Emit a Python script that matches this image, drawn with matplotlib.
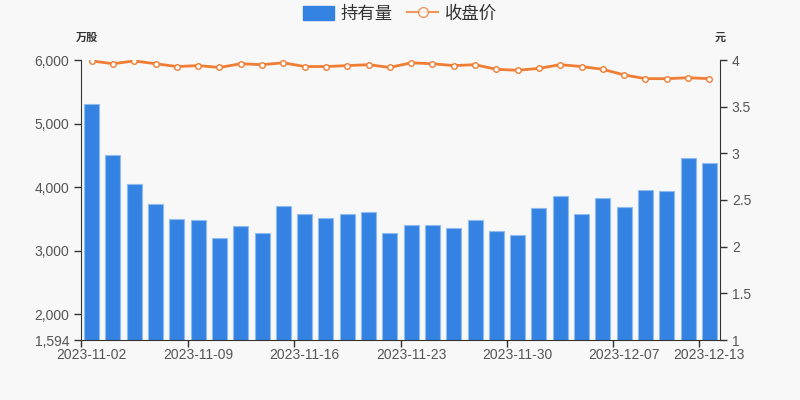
import numpy as np
import matplotlib
matplotlib.use("Agg")
import matplotlib.pyplot as plt
from matplotlib.patches import Patch
from matplotlib.lines import Line2D

plt.rcParams['font.family'] = ['Liberation Sans', 'Noto Sans CJK SC', 'DejaVu Sans']

dates = ['2023-11-02', '2023-11-03', '2023-11-06', '2023-11-07', '2023-11-08',
         '2023-11-09', '2023-11-10', '2023-11-13', '2023-11-14', '2023-11-15',
         '2023-11-16', '2023-11-17', '2023-11-20', '2023-11-21', '2023-11-22',
         '2023-11-23', '2023-11-24', '2023-11-27', '2023-11-28', '2023-11-29',
         '2023-11-30', '2023-12-01', '2023-12-04', '2023-12-05', '2023-12-06',
         '2023-12-07', '2023-12-08', '2023-12-11', '2023-12-12', '2023-12-13']
holdings = [5303, 4505, 4049, 3729, 3498, 3482, 3194, 3388, 3273, 3708,
            3577, 3514, 3577, 3613, 3278, 3399, 3409, 3352, 3477, 3304,
            3241, 3666, 3860, 3577, 3833, 3682, 3950, 3944, 4453, 4384]
close = [3.99, 3.96, 3.99, 3.96, 3.93, 3.94, 3.92, 3.96, 3.95, 3.97,
         3.93, 3.93, 3.94, 3.95, 3.92, 3.97, 3.96, 3.94, 3.95, 3.90,
         3.89, 3.91, 3.95, 3.93, 3.90, 3.84, 3.80, 3.80, 3.81, 3.80]
left_ticks = [1594, 2000, 3000, 4000, 5000, 6000]
right_ticks = [1, 1.5, 2, 2.5, 3, 3.5, 4]
label_idx = [0, 5, 10, 15, 20, 25, 29]

bar_color = '#3483e2'
line_color = '#ef7d34'
text_color = '#555555'
bg = '#f8f8f8'

fig = plt.figure(figsize=(8, 4), dpi=100, facecolor=bg)
ax = fig.add_axes([0.10125, 0.15, 0.79875, 0.70])
ax.set_facecolor(bg)
x = np.arange(len(dates))

ax.bar(x, holdings, width=0.7, color=bar_color, edgecolor='#8fbcf0', linewidth=0.8, zorder=2)
ax.set_xlim(-0.5, len(dates) - 0.5)
ax.set_ylim(1594, 6000)
ax.set_yticks(left_ticks)
ax.set_yticklabels(['{:,}'.format(v) for v in left_ticks])

# ticks sit on band edges, labels in band centres
ax.set_xticks([i - 0.5 for i in label_idx])
ax.set_xticklabels([])
ax.set_xticks(label_idx, minor=True)
ax.set_xticklabels([dates[i] for i in label_idx], minor=True)
ax.tick_params(axis='x', which='minor', length=0, pad=6, labelsize=10, colors=text_color)
ax.tick_params(axis='x', which='major', length=5, width=1, color='#333333')
ax.tick_params(axis='y', length=5, width=1, color='#333333', labelsize=10, labelcolor=text_color)

for s in ['top', 'right']:
    ax.spines[s].set_visible(False)
for s in ['left', 'bottom']:
    ax.spines[s].set_color('#333333')

ax2 = ax.twinx()
ax2.plot(x, close, color=line_color, linewidth=2, marker='o', markersize=4,
         markerfacecolor='white', markeredgecolor=line_color, markeredgewidth=1, zorder=3)
ax2.set_ylim(1, 4)
ax2.set_yticks(right_ticks)
ax2.set_yticklabels(['{:g}'.format(v) for v in right_ticks])
ax2.tick_params(axis='y', length=5, width=1, color='#333333', labelsize=10, labelcolor=text_color)
for s in ['top', 'left', 'bottom']:
    ax2.spines[s].set_visible(False)
ax2.spines['right'].set_color('#333333')

fig.text(87 / 800, 1 - 38 / 400, '万股', ha='center', va='center', fontsize=8,
         fontweight='bold', color='#333333')
fig.text(720 / 800, 1 - 38 / 400, '元', ha='center', va='center', fontsize=8,
         fontweight='bold', color='#333333')

handles = [Patch(facecolor=bar_color, edgecolor=bar_color),
           Line2D([0], [0], color=line_color, linewidth=1.5, marker='o', markersize=7,
                  markerfacecolor='white', markeredgecolor=line_color, alpha=0.8)]
fig.legend(handles, ['持有量', '收盘价'], loc='upper center', bbox_to_anchor=(0.5, 1.025),
           ncol=2, frameon=False, fontsize=12.5, handlelength=1.8, handleheight=0.9,
           columnspacing=0.8, handletextpad=0.4, labelcolor='#333333')

fig.savefig('out.png', dpi=100, facecolor=bg)
